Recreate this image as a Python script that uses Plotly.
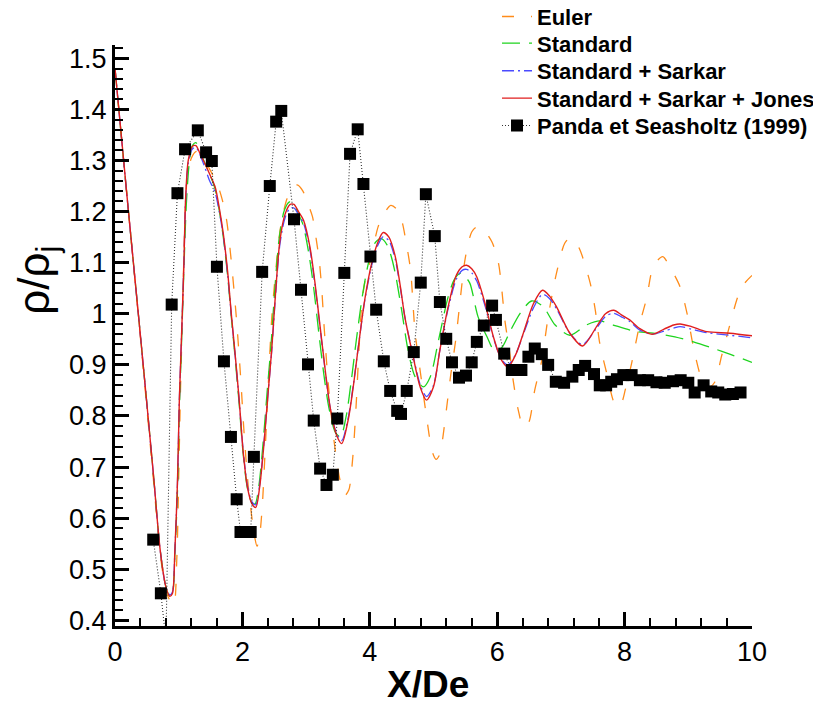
import plotly.graph_objects as go

# ---------------- data ----------------
euler_x = [0.00, 0.20, 0.42, 0.60, 0.72, 0.82, 0.92, 0.97, 1.00, 1.03, 1.06, 1.09, 1.13, 1.20, 1.28,
           1.36, 1.43, 1.52, 1.62, 1.68, 1.75, 1.82, 1.90, 1.97, 2.03, 2.09, 2.14, 2.19, 2.23, 2.27,
           2.31, 2.36, 2.41, 2.46, 2.52, 2.60, 2.70, 2.80, 2.87, 2.95, 3.03, 3.10, 3.16, 3.21, 3.25,
           3.28, 3.35, 3.44, 3.53, 3.61, 3.67, 3.73, 3.785, 3.83, 3.88, 3.95, 4.00, 4.13, 4.21, 4.33,
           4.42, 4.50, 4.57, 4.64, 4.71, 4.80, 4.90, 4.98, 5.04, 5.10, 5.14, 5.20, 5.27, 5.35, 5.43,
           5.50, 5.60, 5.68, 5.78, 5.92, 6.02, 6.07, 6.12, 6.20, 6.25, 6.33, 6.41, 6.49, 6.59, 6.70,
           6.80, 6.93, 7.06, 7.14, 7.22, 7.30, 7.46, 7.54, 7.61, 7.72, 7.82, 7.88, 7.95, 8.01, 8.11,
           8.24, 8.35, 8.43, 8.52, 8.60, 8.71, 8.87, 8.98, 9.08, 9.18, 9.26, 9.34, 9.42, 9.52, 9.63,
           9.76, 9.84, 10.0]
euler_y = [1.480, 1.215, 0.925, 0.680, 0.520, 0.450, 0.430, 0.520, 0.680, 0.860, 1.000, 1.150, 1.260, 1.305, 1.318,
           1.305, 1.295, 1.275, 1.249, 1.225, 1.185, 1.110, 1.000, 0.880, 0.760, 0.665, 0.610, 0.565, 0.545, 0.565,
           0.620, 0.740, 0.870, 0.990, 1.080, 1.170, 1.225, 1.250, 1.252, 1.240, 1.215, 1.190, 1.145, 1.100, 1.040,
           0.980, 0.860, 0.750, 0.676, 0.645, 0.655, 0.715, 0.820, 0.930, 1.027, 1.080, 1.100, 1.170, 1.193, 1.212,
           1.205, 1.183, 1.140, 1.085, 0.965, 0.880, 0.790, 0.730, 0.715, 0.725, 0.752, 0.810, 0.880, 0.950, 1.040,
           1.110, 1.160, 1.170, 1.165, 1.140, 1.099, 1.050, 0.988, 0.920, 0.870, 0.812, 0.779, 0.786, 0.851, 0.909,
           0.994, 1.079, 1.138, 1.148, 1.143, 1.125, 1.060, 1.007, 0.942, 0.883, 0.831, 0.818, 0.825, 0.851, 0.903,
           0.981, 1.033, 1.085, 1.105, 1.112, 1.092, 1.053, 1.001, 0.935, 0.883, 0.857, 0.857, 0.867, 0.916, 0.968,
           1.027, 1.053, 1.075]

std_x = [0.00, 0.20, 0.42, 0.60, 0.71, 0.80, 0.86, 0.90, 0.94, 0.98, 1.01, 1.04, 1.08, 1.12, 1.17,
         1.22, 1.27, 1.33, 1.40, 1.48, 1.57, 1.64, 1.70, 1.77, 1.83, 1.88, 1.95, 2.01, 2.08, 2.15,
         2.20, 2.26, 2.32, 2.39, 2.45, 2.51, 2.58, 2.66, 2.74, 2.80, 2.87, 2.95, 3.04, 3.12, 3.20,
         3.28, 3.36, 3.46, 3.54, 3.63, 3.71, 3.79, 3.89, 3.99, 4.09, 4.18, 4.27, 4.33, 4.40, 4.50,
         4.60, 4.71, 4.84, 4.95, 5.08, 5.23, 5.33, 5.42, 5.50, 5.57, 5.70, 5.84, 5.97, 6.08, 6.20,
         6.36, 6.54, 6.72, 6.91, 7.14, 7.40, 7.61, 7.82, 8.19, 8.45, 8.79, 9.08, 9.40, 9.65, 10.0]
std_y = [1.480, 1.215, 0.930, 0.690, 0.537, 0.465, 0.447, 0.452, 0.530, 0.650, 0.810, 0.925, 1.080, 1.215, 1.300,
         1.330, 1.335, 1.318, 1.298, 1.275, 1.245, 1.200, 1.150, 1.072, 0.988, 0.922, 0.822, 0.728, 0.658, 0.630,
         0.628, 0.665, 0.740, 0.850, 0.940, 1.050, 1.150, 1.203, 1.219, 1.216, 1.198, 1.175, 1.120, 1.050, 0.962,
         0.880, 0.815, 0.768, 0.759, 0.800, 0.870, 0.950, 1.040, 1.105, 1.140, 1.147, 1.135, 1.115, 1.079, 1.007,
         0.929, 0.877, 0.857, 0.877, 0.949, 1.033, 1.068, 1.079, 1.072, 1.060, 0.994, 0.955, 0.925, 0.935, 0.965,
         1.001, 1.025, 1.014, 0.978, 0.958, 0.978, 0.986, 0.978, 0.965, 0.962, 0.955, 0.945, 0.932, 0.921, 0.905]

sarkar_x = [0.00, 0.20, 0.42, 0.60, 0.71, 0.80, 0.86, 0.90, 0.94, 0.98, 1.01, 1.04, 1.08, 1.11, 1.15,
            1.21, 1.27, 1.33, 1.40, 1.48, 1.57, 1.64, 1.70, 1.77, 1.83, 1.88, 1.95, 2.01, 2.08, 2.15,
            2.21, 2.27, 2.33, 2.40, 2.46, 2.52, 2.59, 2.67, 2.75, 2.81, 2.88, 2.96, 3.06, 3.14, 3.22,
            3.30, 3.38, 3.48, 3.56, 3.66, 3.74, 3.82, 3.92, 4.03, 4.13, 4.21, 4.30, 4.40, 4.48, 4.55,
            4.68, 4.79, 4.89, 5.00, 5.10, 5.23, 5.36, 5.45, 5.52, 5.60, 5.68, 5.81, 5.94, 6.07, 6.17,
            6.29, 6.41, 6.57, 6.71, 6.82, 6.93, 7.14, 7.34, 7.56, 7.70, 7.83, 7.95, 8.08, 8.24, 8.43,
            8.62, 8.77, 8.87, 9.05, 9.29, 9.65, 10.0]
sarkar_y = [1.480, 1.215, 0.930, 0.690, 0.537, 0.465, 0.450, 0.455, 0.537, 0.668, 0.831, 0.940, 1.092, 1.225, 1.295,
            1.322, 1.326, 1.312, 1.290, 1.262, 1.238, 1.198, 1.152, 1.076, 0.992, 0.927, 0.830, 0.735, 0.663, 0.632,
            0.626, 0.664, 0.736, 0.840, 0.927, 1.035, 1.137, 1.188, 1.207, 1.207, 1.194, 1.177, 1.126, 1.056, 0.972,
            0.888, 0.815, 0.765, 0.752, 0.796, 0.860, 0.935, 1.025, 1.095, 1.135, 1.151, 1.143, 1.106, 1.050, 0.994,
            0.918, 0.862, 0.838, 0.860, 0.929, 1.010, 1.068, 1.085, 1.087, 1.080, 1.064, 1.015, 0.953, 0.910, 0.900,
            0.921, 0.960, 1.012, 1.038, 1.030, 1.010, 0.962, 0.940, 0.972, 0.995, 1.001, 0.994, 0.985, 0.968, 0.960,
            0.966, 0.972, 0.975, 0.970, 0.963, 0.958, 0.953]

jones_x = [0.00, 0.20, 0.42, 0.60, 0.71, 0.80, 0.86, 0.90, 0.94, 0.98, 1.01, 1.04, 1.08, 1.11, 1.15,
           1.21, 1.27, 1.33, 1.40, 1.48, 1.57, 1.64, 1.70, 1.77, 1.83, 1.88, 1.95, 2.01, 2.08, 2.15,
           2.21, 2.27, 2.33, 2.40, 2.46, 2.52, 2.59, 2.67, 2.75, 2.81, 2.88, 2.96, 3.06, 3.14, 3.22,
           3.30, 3.38, 3.48, 3.56, 3.66, 3.74, 3.82, 3.92, 4.03, 4.13, 4.21, 4.30, 4.40, 4.48, 4.55,
           4.68, 4.79, 4.89, 5.00, 5.10, 5.23, 5.36, 5.45, 5.52, 5.60, 5.68, 5.81, 5.94, 6.07, 6.17,
           6.29, 6.41, 6.57, 6.71, 6.82, 6.93, 7.14, 7.34, 7.56, 7.70, 7.83, 7.95, 8.08, 8.24, 8.43,
           8.62, 8.77, 8.87, 9.05, 9.29, 9.65, 10.0]
jones_y = [1.480, 1.215, 0.930, 0.690, 0.537, 0.465, 0.447, 0.452, 0.537, 0.668, 0.831, 0.940, 1.092, 1.230, 1.300,
           1.327, 1.329, 1.315, 1.297, 1.275, 1.249, 1.205, 1.157, 1.080, 0.994, 0.929, 0.830, 0.733, 0.660, 0.628,
           0.621, 0.660, 0.733, 0.840, 0.929, 1.040, 1.144, 1.195, 1.214, 1.214, 1.200, 1.183, 1.131, 1.060, 0.975,
           0.890, 0.815, 0.762, 0.746, 0.792, 0.857, 0.935, 1.027, 1.099, 1.141, 1.159, 1.150, 1.112, 1.053, 0.994,
           0.916, 0.857, 0.831, 0.857, 0.929, 1.014, 1.076, 1.092, 1.095, 1.088, 1.072, 1.020, 0.955, 0.909, 0.896,
           0.920, 0.962, 1.020, 1.046, 1.035, 1.014, 0.962, 0.937, 0.975, 1.000, 1.007, 0.998, 0.988, 0.971, 0.960,
           0.970, 0.978, 0.980, 0.975, 0.965, 0.962, 0.957]

panda_x = [0.60, 0.72, 0.80, 0.89, 0.98, 1.10, 1.30, 1.43, 1.52, 1.60, 1.71, 1.82, 1.91, 1.97, 2.13,
           2.18, 2.31, 2.43, 2.53, 2.61, 2.81, 2.92, 3.03, 3.12, 3.22, 3.32, 3.42, 3.49, 3.60, 3.69,
           3.81, 3.90, 4.01, 4.10, 4.22, 4.32, 4.43, 4.49, 4.58, 4.69, 4.80, 4.88, 5.02, 5.10, 5.20,
           5.29, 5.40, 5.51, 5.60, 5.68, 5.79, 5.92, 5.98, 6.11, 6.23, 6.38, 6.49, 6.59, 6.70, 6.80,
           6.92, 7.05, 7.18, 7.28, 7.38, 7.52, 7.61, 7.71, 7.79, 7.88, 7.98, 8.11, 8.24, 8.37, 8.50,
           8.63, 8.76, 8.88, 9.00, 9.10, 9.24, 9.36, 9.47, 9.58, 9.70, 9.82]
panda_y = [0.558, 0.453, 0.360, 1.018, 1.236, 1.322, 1.359, 1.316, 1.299, 1.092, 0.907, 0.759, 0.637, 0.573, 0.573,
           0.720, 1.082, 1.250, 1.376, 1.397, 1.185, 1.047, 0.901, 0.791, 0.697, 0.665, 0.685, 0.795, 1.080, 1.313,
           1.361, 1.254, 1.112, 1.008, 0.907, 0.849, 0.810, 0.804, 0.849, 0.925, 1.061, 1.234, 1.152, 1.023, 0.951,
           0.905, 0.875, 0.879, 0.905, 0.945, 0.977, 1.016, 0.988, 0.922, 0.890, 0.890, 0.916, 0.932, 0.921, 0.900,
           0.867, 0.865, 0.877, 0.890, 0.898, 0.882, 0.860, 0.860, 0.867, 0.872, 0.880, 0.880, 0.870, 0.870, 0.866,
           0.865, 0.868, 0.870, 0.865, 0.846, 0.860, 0.848, 0.846, 0.842, 0.843, 0.846]

series_names = ["Euler", "Standard", "Standard + Sarkar", "Standard + Sarkar + Jones",
                "Panda et Seasholtz (1999)"]

x_tickvals = [0, 2, 4, 6, 8, 10]
x_ticktext = ["0", "2", "4", "6", "8", "10"]
y_tickvals = [0.4, 0.5, 0.6, 0.7, 0.8, 0.9, 1.0, 1.1, 1.2, 1.3, 1.4, 1.5]
y_ticktext = ["0.4", "0.5", "0.6", "0.7", "0.8", "0.9", "1", "1.1", "1.2", "1.3", "1.4", "1.5"]

# ---------------- figure ----------------
FONT = "Liberation Sans, Arial, Helvetica, sans-serif"
fig = go.Figure()

line_kw = dict(shape="spline", smoothing=0.8)
legend_ids = ["legend", "legend2", "legend3", "legend4", "legend5"]

fig.add_trace(go.Scatter(x=euler_x, y=euler_y, mode="lines", name=series_names[0],
                         legend=legend_ids[0],
                         line=dict(color="#FF8C1A", width=1.3, dash="12px,17px", **line_kw)))
fig.add_trace(go.Scatter(x=std_x, y=std_y, mode="lines", name=series_names[1],
                         legend=legend_ids[1],
                         line=dict(color="#1ED41E", width=1.3, dash="18px,9px", **line_kw)))
fig.add_trace(go.Scatter(x=sarkar_x, y=sarkar_y, mode="lines", name=series_names[2],
                         legend=legend_ids[2],
                         line=dict(color="#4A4AFF", width=1.3, dash="12px,4px,2px,4px", **line_kw)))
fig.add_trace(go.Scatter(x=jones_x, y=jones_y, mode="lines", name=series_names[3],
                         legend=legend_ids[3],
                         line=dict(color="#E01E1E", width=1.4, **line_kw)))
fig.add_trace(go.Scatter(x=panda_x, y=panda_y, mode="lines+markers", name=series_names[4],
                         legend=legend_ids[4],
                         line=dict(color="#333333", width=1.1, dash="1px,2px"),
                         marker=dict(symbol="square", size=12, color="black",
                                     line=dict(width=0))))

axis_common = dict(showgrid=False, zeroline=False, showline=True, linecolor="black",
                   linewidth=3, mirror=False, ticks="inside", tickcolor="black",
                   tickwidth=3, ticklen=14,
                   tickfont=dict(family=FONT, size=27, color="black"))

# one legend box per row so the rows sit at the reference spacing
legend_rows_y = [1.0487, 1.0030, 0.9553, 0.9083, 0.8611]
legend_layout = {}
for lid, ly in zip(legend_ids, legend_rows_y):
    legend_layout[lid] = dict(x=0.5997, y=ly, xanchor="left", yanchor="middle",
                              bgcolor="rgba(0,0,0,0)", borderwidth=0,
                              font=dict(family=FONT, size=22, color="black", weight="bold"))

# the page places the figure 8 px in from the top-left corner, so the figure
# is sized to fill the rest of the window and the plot area sits where the
# reference has it on screen
fig.update_layout(
    width=813, height=694,
    margin=dict(l=107, r=69, t=37, b=76, autoexpand=False),
    paper_bgcolor="white", plot_bgcolor="white",
    showlegend=True,
    xaxis=dict(range=[0, 10], tickmode="array", tickvals=x_tickvals, ticktext=x_ticktext,
               minor=dict(dtick=0.4, tick0=0, ticks="inside", ticklen=8, tickwidth=2,
                          tickcolor="black", showgrid=False),
               **axis_common),
    yaxis=dict(range=[0.389, 1.526], tickmode="array", tickvals=y_tickvals, ticktext=y_ticktext,
               minor=dict(dtick=0.02, tick0=0.4, ticks="inside", ticklen=8, tickwidth=2,
                          tickcolor="black", showgrid=False),
               **axis_common),
    **legend_layout,
)

fig.add_annotation(text="ρ/ρ<sub>j</sub>", xref="paper", yref="paper",
                   x=-0.1225, y=0.596, xanchor="center", yanchor="middle",
                   textangle=-90, showarrow=False,
                   font=dict(family=FONT, size=44, color="black"))
fig.add_annotation(text="<b>X/De</b>", xref="paper", yref="paper",
                   x=0.491, y=-0.1015, xanchor="center", yanchor="middle",
                   showarrow=False,
                   font=dict(family=FONT, size=37, color="black"))

fig.write_html("out.html")
